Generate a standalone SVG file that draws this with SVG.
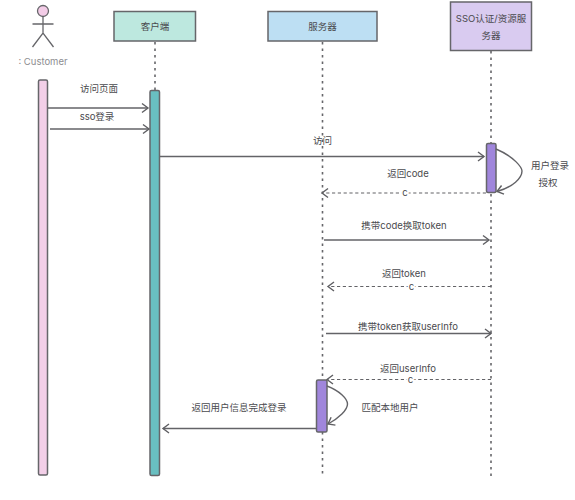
<svg xmlns="http://www.w3.org/2000/svg" width="575" height="500" viewBox="0 0 575 500">
<defs>
<marker id="arr" markerUnits="userSpaceOnUse" markerWidth="12" markerHeight="12" refX="7" refY="6" orient="auto"><path d="M1 1.500L7 6L1 10.500" fill="none" stroke="#5f5f63" stroke-width="1.400"/></marker>
</defs>
<style>
text{font-family:"Inter","Liberation Sans","Noto Sans CJK SC",sans-serif;font-size:9.500px;fill:#4a4a4e;text-anchor:middle}
.box{stroke:#66666a;stroke-width:1.500}
.life{stroke:#66666a;stroke-width:1.600;stroke-dasharray:2.500 4;fill:none}
.msg{stroke:#636367;stroke-width:1.400;fill:none;marker-end:url(#arr)}
.ret{stroke:#636367;stroke-width:1.200;stroke-dasharray:3.200 2.600;fill:none;marker-end:url(#arr)}
.act{stroke:#66666a;stroke-width:1.500}
.c{font-size:9.500px;paint-order:stroke;stroke:#ffffff;stroke-width:3px}
</style>
<rect width="575" height="500" fill="#ffffff"/>
<g id="lifelines">
<line class="life" x1="155" y1="42" x2="155" y2="90"/>
<line class="life" x1="322.500" y1="42" x2="322.500" y2="476"/>
<line class="life" x1="491" y1="51" x2="491" y2="476"/>
</g>
<g id="actor-customer">
<circle cx="43" cy="11" r="5.500" fill="#f3cce7" stroke="#66666a" stroke-width="1.300"/>
<path d="M43 16.500V33M32.500 24H53.500M32.500 47L43 33L53.500 47" fill="none" stroke="#66666a" stroke-width="1.300"/>
<text x="43" y="65" style="fill:#8d8d91">: Customer</text>
<rect class="act" x="38.500" y="80" width="9" height="395" rx="1.500" fill="#f3cfe8"/>
</g>
<g id="node-client">
<rect class="box" x="114" y="11.500" width="81.500" height="29.500" fill="#bde8df"/>
<text x="155" y="30">客户端</text>
<rect class="act" x="150" y="90.500" width="9.500" height="385" rx="1.500" fill="#69bfc1"/>
</g>
<g id="node-server">
<rect class="box" x="268" y="11.500" width="109" height="29.500" fill="#bddff3"/>
<text x="322.500" y="30">服务器</text>
<rect class="act" x="316.500" y="380" width="10.500" height="52" rx="1.500" fill="#a086dc"/>
</g>
<g id="node-sso">
<rect class="box" x="450.500" y="2" width="81" height="48.500" fill="#d9cbf0"/>
<text x="491" y="22">SSO认证/资源服</text>
<text x="491" y="39">务器</text>
<rect class="act" x="486.500" y="143.500" width="9.500" height="49" rx="1.500" fill="#a086dc"/>
</g>
<g id="connectors">
<path class="msg" d="M48 108H148"/>
<path class="msg" d="M50 129H149"/>
<path class="msg" d="M160 156.500H484"/>
<path class="msg" d="M496 149C515 157 522 168 522 171C522 178 513 187 497 191.500"/>
<path class="ret" d="M486 193H322"/>
<path class="msg" d="M324 240H489"/>
<path class="ret" d="M491 286.500H328"/>
<path class="msg" d="M326 333.500H491"/>
<path class="ret" d="M491 379.500H327"/>
<path class="msg" d="M327 386C340 391 347.500 399 347.500 404C347.500 410 339 418 328 424"/>
<path class="msg" d="M316 428.500H163"/>
</g>
<g id="labels">
<text x="99" y="92">访问页面</text>
<text x="97" y="120">sso登录</text>
<text x="322.500" y="143.500">访问</text>
<text x="408" y="177">返回code</text>
<text class="c" x="405" y="196">c</text>
<text x="550" y="169">用户登录</text>
<text x="548" y="186">授权</text>
<text x="404" y="228.500">携带code换取token</text>
<text x="404" y="276.500">返回token</text>
<text class="c" x="411.500" y="289.500">c</text>
<text x="408" y="329.500">携带token获取userInfo</text>
<text x="408" y="371.500">返回userInfo</text>
<text class="c" x="410.500" y="382.500">c</text>
<text x="390" y="410.500">匹配本地用户</text>
<text x="239" y="410.500">返回用户信息完成登录</text>
</g>
</svg>
